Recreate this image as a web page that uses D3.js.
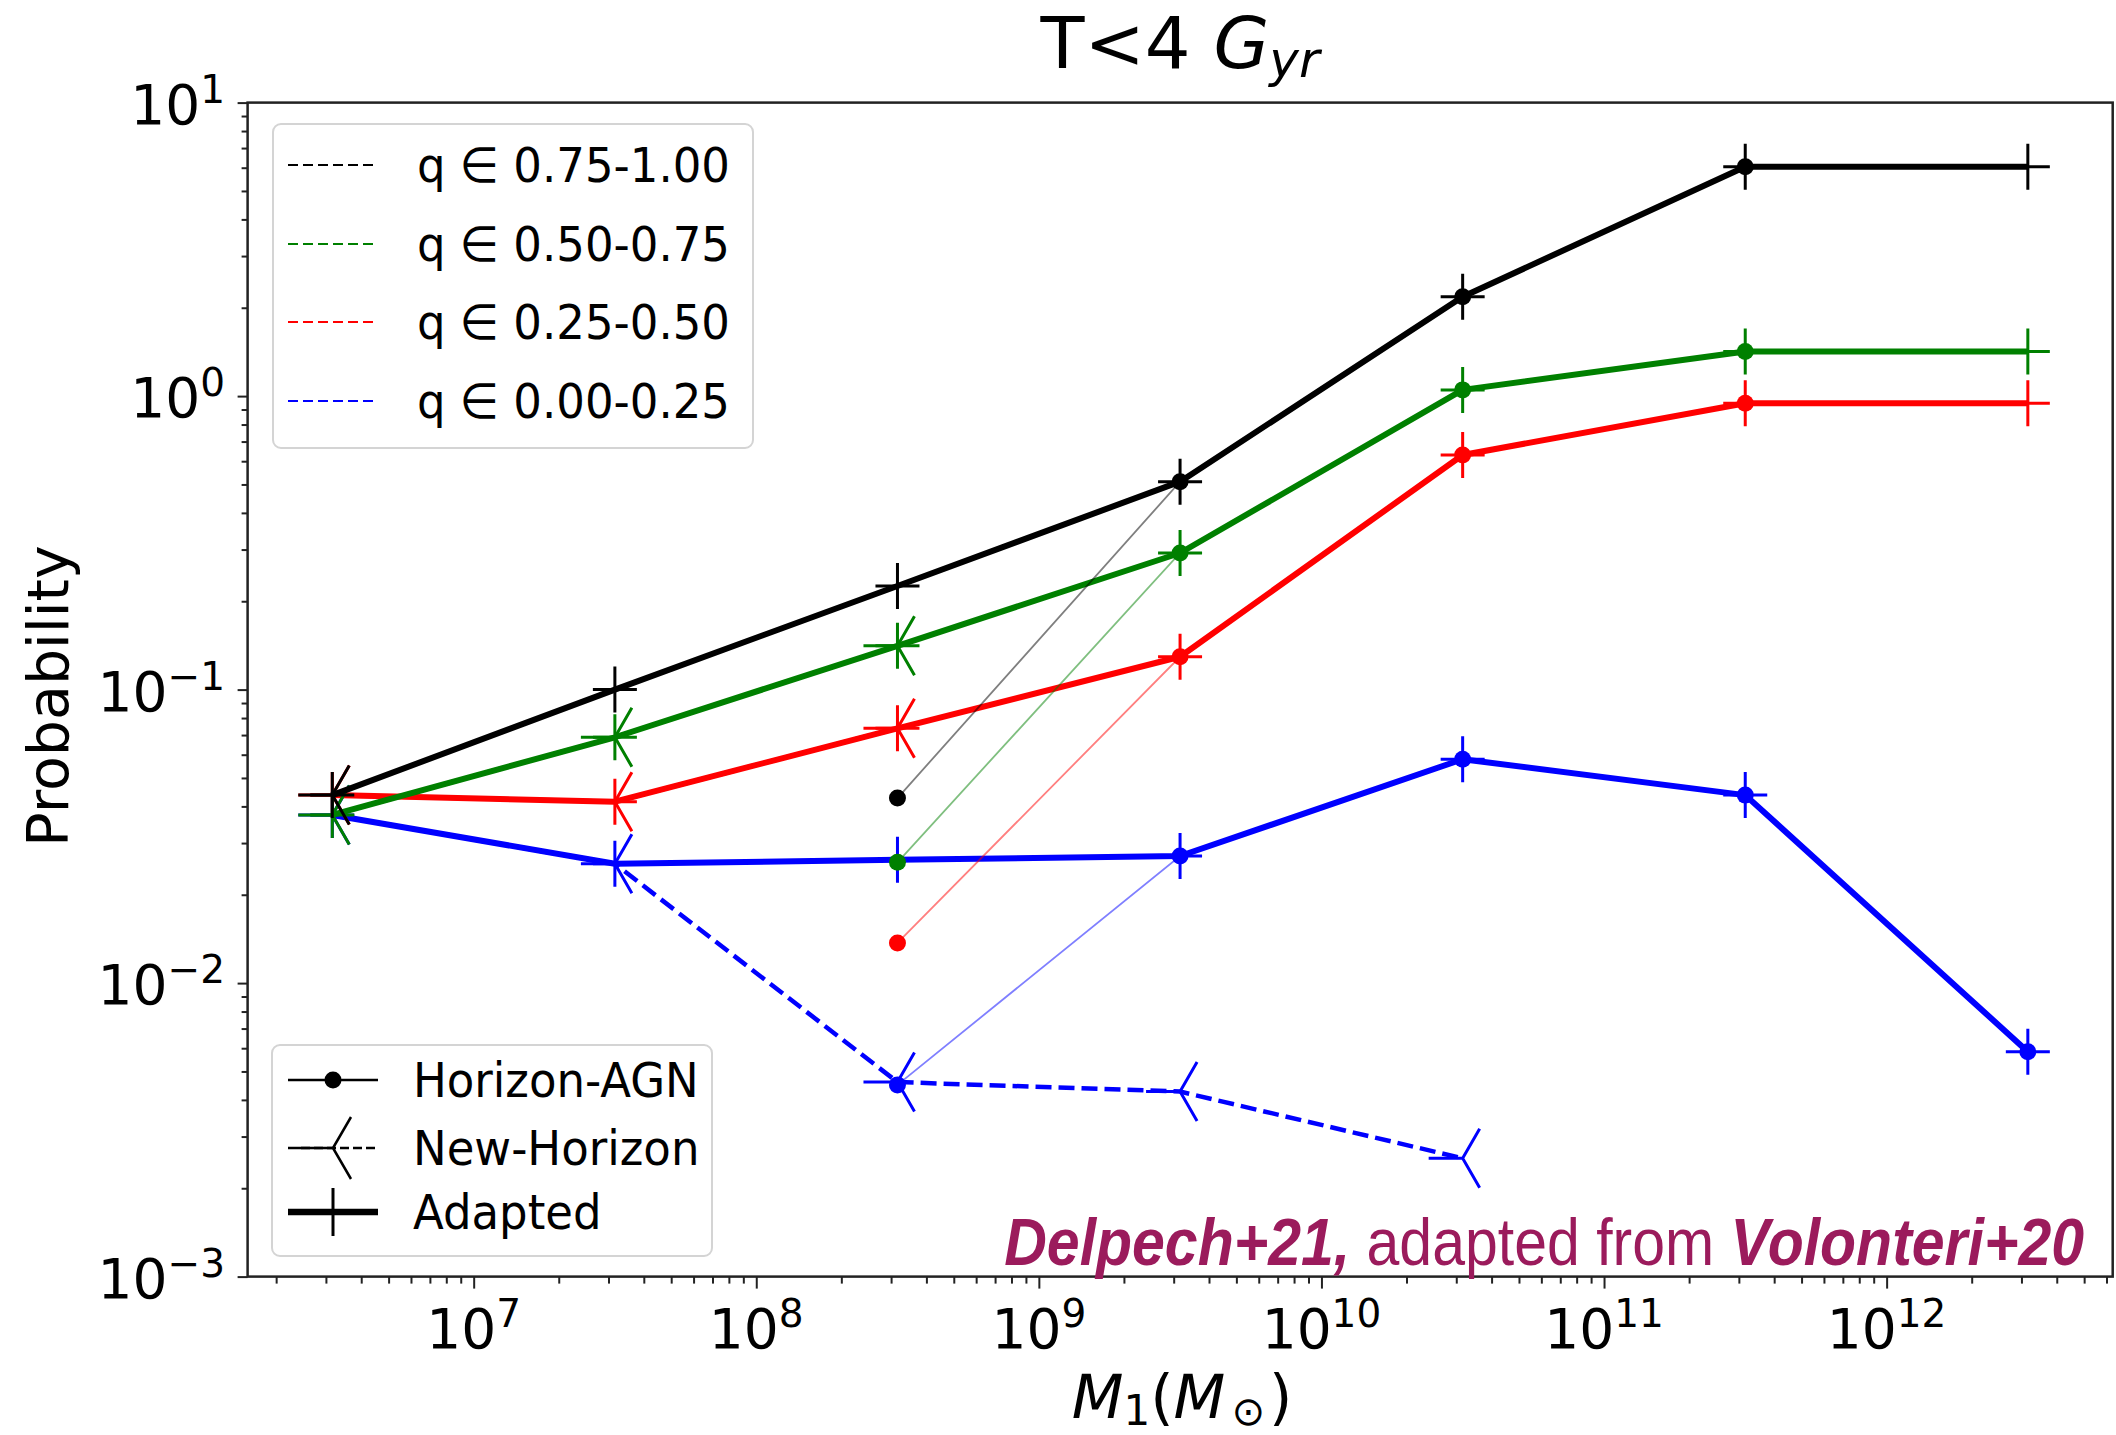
<!DOCTYPE html>
<html>
<head>
<meta charset="utf-8">
<script src="https://cdn.jsdelivr.net/npm/d3@7"></script>
<style>
  body { margin: 0; background: #fff; }
  text { font-family: "DejaVu Sans", sans-serif; fill: #000; }
</style>
</head>
<body>
<svg id="chart" width="2116" height="1435"></svg>
<script>
// mass bins (bin centres, M_sun)
const massBins = [3.16e6, 3.16e7, 3.16e8, 3.16e9, 3.16e10, 3.16e11, 3.16e12];

const qLabels = ["q \u2208 0.75-1.00", "q \u2208 0.50-0.75", "q \u2208 0.25-0.50", "q \u2208 0.00-0.25"];
const qColors = ["#000000", "#008000", "#ff0000", "#0000ff"];

// "Adapted" (thick solid, + markers)
const adapted_q4 = [0.0437, 0.100, 0.2255, 0.511, 2.18, 6.05, 6.05];
const adapted_q3 = [0.0374, 0.0688, 0.141, 0.292, 1.05, 1.42, 1.42];
const adapted_q2 = [0.0437, 0.0415, 0.0738, 0.1294, 0.63, 0.945, 0.945];
const adapted_q1 = [0.0374, 0.0255, 0.0263, 0.0271, 0.0579, 0.0437, 0.00584];

// Horizon-AGN (thin, dot markers)
const hagn_q4 = [null, null, 0.0427, 0.511, 2.18, 6.05, null];
const hagn_q3 = [null, null, 0.0258, 0.292, 1.05, 1.42, null];
const hagn_q2 = [null, null, 0.0137, 0.1294, 0.63, 0.945, null];
const hagn_q1 = [null, null, 0.0045, 0.0271, 0.0579, 0.0437, 0.00584];

// New-Horizon (dashed, tri_left markers)
const nh_q4 = [0.0437, null, null, null, null, null, null];
const nh_q3 = [0.0374, 0.0688, 0.141, null, null, null, null];
const nh_q2 = [0.0437, 0.0415, 0.0738, null, null, null, null];
const nh_q1 = [0.0374, 0.0255, 0.0046, 0.00427, 0.00253, null, null];

const xMajor = [1e7, 1e8, 1e9, 1e10, 1e11, 1e12];
const yMajor = [1e-3, 1e-2, 1e-1, 1e0, 1e1];
const xExp = ["7", "8", "9", "10", "11", "12"];
const yExp = ["\u22123", "\u22122", "\u22121", "0", "1"];

var svg = d3.select("#chart");
svg.append("rect").attr("width", 2116).attr("height", 1435).attr("fill", "#fff");

var plotL = 247.6, plotR = 2112.7, plotT = 102.6, plotB = 1276.6;

var x = d3.scaleLog().domain([Math.pow(10, 6.2), Math.pow(10, 12.8)]).range([plotL, plotR]);
var y = d3.scaleLog().domain([1e-3, 1e1]).range([plotB, plotT]);

// minor tick positions
var xMinor = [], yMinor = [];
for (var e = 6; e <= 12; e++)
  for (var m = 2; m <= 9; m++) {
    var v = m * Math.pow(10, e);
    if (v >= x.domain()[0] && v <= x.domain()[1]) xMinor.push(v);
  }
for (var e = -3; e <= 0; e++)
  for (var m = 2; m <= 9; m++) yMinor.push(m * Math.pow(10, e));

function styleAxis(g) {
  g.select(".domain").remove();
  g.selectAll(".tick line").attr("stroke", "#222").attr("stroke-width", 2);
}

svg.append("g").attr("transform", "translate(0," + plotB + ")")
  .call(d3.axisBottom(x).tickValues(xMajor).tickSize(12).tickFormat("")).call(styleAxis);
svg.append("g").attr("transform", "translate(0," + plotB + ")")
  .call(d3.axisBottom(x).tickValues(xMinor).tickSize(7).tickFormat("")).call(styleAxis);
svg.append("g").attr("transform", "translate(" + plotL + ",0)")
  .call(d3.axisLeft(y).tickValues(yMajor).tickSize(10).tickFormat("")).call(styleAxis);
svg.append("g").attr("transform", "translate(" + plotL + ",0)")
  .call(d3.axisLeft(y).tickValues(yMinor).tickSize(6).tickFormat("")).call(styleAxis);

// tick labels 10^n
function powLabel(t, exp) {
  t.append("tspan").text("10");
  t.append("tspan").attr("dy", -21).style("font-size", "39px").text(exp);
}
xMajor.forEach(function(v, i) {
  svg.append("text")
    .attr("transform", "translate(" + x(v) + ",1348)")
    .attr("text-anchor", "middle").style("font-size", "55px")
    .call(powLabel, xExp[i]);
});
yMajor.forEach(function(v, i) {
  svg.append("text")
    .attr("transform", "translate(225," + (y(v) + 21) + ")")
    .attr("text-anchor", "end").style("font-size", "55px")
    .call(powLabel, yExp[i]);
});

// axis labels + title
svg.append("text").attr("transform", "translate(68,696) rotate(-90)")
  .attr("text-anchor", "middle").style("font-size", "57px").text("Probability");

var xl = svg.append("text").attr("x", 1182).attr("y", 1418)
  .attr("text-anchor", "middle").style("font-size", "60px");
xl.append("tspan").style("font-style", "italic").text("M");
xl.append("tspan").attr("dy", 7).style("font-size", "42px").text("1");
xl.append("tspan").attr("dy", -7).text("(");
xl.append("tspan").style("font-style", "italic").text("M");
xl.append("tspan").attr("dy", 7).attr("dx", 6).style("font-size", "40px").text("\u2299");
xl.append("tspan").attr("dy", -7).attr("dx", 4).text(")");

var tt = svg.append("text").attr("x", 1180).attr("y", 68)
  .attr("text-anchor", "middle").style("font-size", "72px");
tt.append("tspan").text("T<4 ");
tt.append("tspan").style("font-style", "italic").text("G");
tt.append("tspan").attr("dy", 9).style("font-style", "italic").style("font-size", "50px").text("yr");

// markers
var plusPath = "M-22,0H22M0,-23V23";
var triPath = "M0,0H-34M0,0L17,-29.5M0,0L17,29.5";

var line = d3.line()
  .defined(function(d) { return d[1] != null; })
  .x(function(d) { return x(d[0]); })
  .y(function(d) { return y(d[1]); });

function pts(vals) { return massBins.map(function(m, i) { return [m, vals[i]]; }); }

var groups = [
  { color: qColors[3], adapted: adapted_q1, hagn: hagn_q1, nh: nh_q1 },
  { color: qColors[2], adapted: adapted_q2, hagn: hagn_q2, nh: nh_q2 },
  { color: qColors[1], adapted: adapted_q3, hagn: hagn_q3, nh: nh_q3 },
  { color: qColors[0], adapted: adapted_q4, hagn: hagn_q4, nh: nh_q4 }
];

var plot = svg.append("g");
groups.forEach(function(s) {
  var g = plot.append("g");
  // Horizon-AGN
  g.append("path").datum(pts(s.hagn)).attr("d", line)
    .attr("fill", "none").attr("stroke", s.color).attr("stroke-width", 1.8).attr("stroke-opacity", 0.5);
  g.selectAll(".hd").data(pts(s.hagn).filter(function(d) { return d[1] != null; }))
    .enter().append("circle")
    .attr("cx", function(d) { return x(d[0]); }).attr("cy", function(d) { return y(d[1]); })
    .attr("r", 8.5).attr("fill", s.color);
  // New-Horizon
  g.append("path").datum(pts(s.nh)).attr("d", line)
    .attr("fill", "none").attr("stroke", s.color).attr("stroke-width", 4.5).attr("stroke-dasharray", "16,7");
  g.selectAll(".nm").data(pts(s.nh).filter(function(d) { return d[1] != null; }))
    .enter().append("path")
    .attr("transform", function(d) { return "translate(" + x(d[0]) + "," + y(d[1]) + ")"; })
    .attr("d", triPath).attr("fill", "none").attr("stroke", s.color).attr("stroke-width", 3);
  // Adapted
  g.append("path").datum(pts(s.adapted)).attr("d", line)
    .attr("fill", "none").attr("stroke", s.color).attr("stroke-width", 6).attr("stroke-linejoin", "round");
  g.selectAll(".am").data(pts(s.adapted))
    .enter().append("path")
    .attr("transform", function(d) { return "translate(" + x(d[0]) + "," + y(d[1]) + ")"; })
    .attr("d", plusPath).attr("fill", "none").attr("stroke", s.color).attr("stroke-width", 3);
});

// frame
svg.append("rect").attr("x", plotL).attr("y", plotT)
  .attr("width", plotR - plotL).attr("height", plotB - plotT)
  .attr("fill", "none").attr("stroke", "#222").attr("stroke-width", 2.5);

// legend 1: q ranges
var leg1 = svg.append("g");
leg1.append("rect").attr("x", 273).attr("y", 124).attr("width", 480).attr("height", 324).attr("rx", 8)
  .attr("fill", "#fff").attr("fill-opacity", 0.85).attr("stroke", "#d4d4d4").attr("stroke-width", 2);
var rowY1 = [165, 244, 322, 401];
qLabels.forEach(function(lbl, i) {
  leg1.append("line").attr("x1", 288).attr("x2", 378).attr("y1", rowY1[i]).attr("y2", rowY1[i])
    .attr("stroke", qColors[i]).attr("stroke-width", 2).attr("stroke-dasharray", "10,5");
  leg1.append("text").attr("transform", "translate(417," + (rowY1[i] + 17) + ") scale(1,1.08)")
    .style("font-size", "45px").text(lbl);
});

// legend 2: simulations
var leg2 = svg.append("g");
leg2.append("rect").attr("x", 272).attr("y", 1045).attr("width", 440).attr("height", 211).attr("rx", 8)
  .attr("fill", "#fff").attr("fill-opacity", 0.85).attr("stroke", "#d4d4d4").attr("stroke-width", 2);
var rowY2 = [1080, 1148, 1212];
var simLabels = ["Horizon-AGN", "New-Horizon", "Adapted"];
leg2.append("line").attr("x1", 288).attr("x2", 378).attr("y1", rowY2[0]).attr("y2", rowY2[0])
  .attr("stroke", "#000").attr("stroke-width", 2.5);
leg2.append("circle").attr("cx", 333).attr("cy", rowY2[0]).attr("r", 8.5).attr("fill", "#000");
leg2.append("line").attr("x1", 288).attr("x2", 378).attr("y1", rowY2[1]).attr("y2", rowY2[1])
  .attr("stroke", "#000").attr("stroke-width", 2.5).attr("stroke-dasharray", "9,4");
leg2.append("path").attr("transform", "translate(333," + rowY2[1] + ")").attr("d", "M0,0H-36M0,0L18,-31M0,0L18,31")
  .attr("fill", "none").attr("stroke", "#000").attr("stroke-width", 2.5);
leg2.append("line").attr("x1", 288).attr("x2", 378).attr("y1", rowY2[2]).attr("y2", rowY2[2])
  .attr("stroke", "#000").attr("stroke-width", 6.5);
leg2.append("path").attr("transform", "translate(333," + rowY2[2] + ")").attr("d", "M0,-24V24")
  .attr("fill", "none").attr("stroke", "#000").attr("stroke-width", 3);
simLabels.forEach(function(lbl, i) {
  leg2.append("text").attr("transform", "translate(413," + (rowY2[i] + 17) + ") scale(1,1.08)")
    .style("font-size", "45px").text(lbl);
});

// credit line
var cr = svg.append("text")
  .attr("transform", "translate(2084,1265) scale(1,1.14)")
  .attr("text-anchor", "end")
  .style("font-family", "'Liberation Sans', Arial, sans-serif")
  .style("font-size", "59px").style("fill", "#9b1b5c");
cr.append("tspan").style("font-weight", "bold").style("font-style", "italic").text("Delpech+21,");
cr.append("tspan").text(" adapted from ");
cr.append("tspan").style("font-weight", "bold").style("font-style", "italic").text("Volonteri+20");
</script>
</body>
</html>
